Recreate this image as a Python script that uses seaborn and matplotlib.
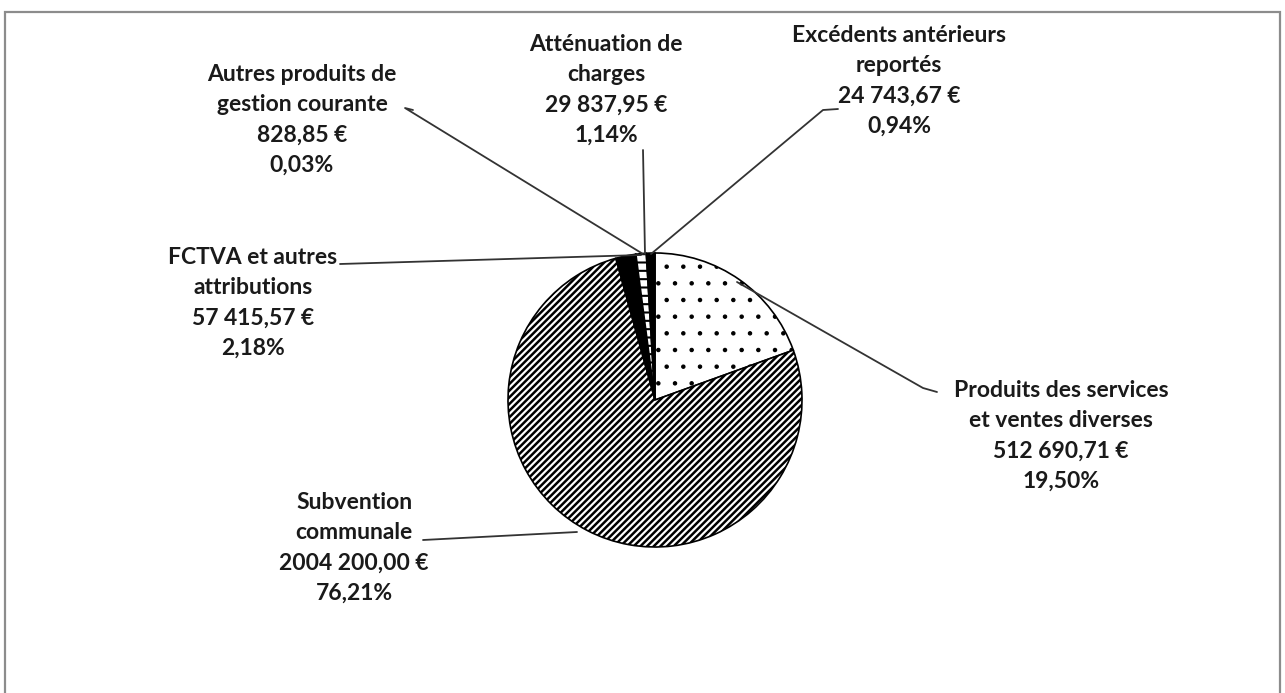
import matplotlib
matplotlib.use("Agg")
import matplotlib.pyplot as plt
import seaborn as sns
from matplotlib.patches import Rectangle

# Data (order as drawn, clockwise from 12 o'clock)
categories = ["Produits des services\net ventes diverses", "Subvention\ncommunale",
              "FCTVA et autres\nattributions", "Autres produits de\ngestion courante",
              "Atténuation de\ncharges", "Excédents antérieurs\nreportés"]
amounts = ["512 690,71 €", "2004 200,00 €", "57 415,57 €", "828,85 €",
           "29 837,95 €", "24 743,67 €"]
values = [512690.71, 2004200.00, 57415.57, 828.85, 29837.95, 24743.67]
percents = ["19,50%", "76,21%", "2,18%", "0,03%", "1,14%", "0,94%"]

sns.set_theme(style="white")
plt.rcParams["font.family"] = ["Lato", "DejaVu Sans"]
plt.rcParams["hatch.linewidth"] = 1.5

W, H = 1285, 693
fig = plt.figure(figsize=(W / 100, H / 100), dpi=100)
ax = fig.add_axes([0, 0, 1, 1])

# frame around the chart area
ax.add_patch(Rectangle((5, -20), 1275, H - 12 + 20, fill=False,
                       edgecolor="#8c8c8c", linewidth=1.6))

cx, cy, r = 655, H - 400, 147
faces = ["white", "white", "black", "black", "white", "black"]
hatches = [".", "/////", None, None, "--", None]
hatch_lw = [0.8, 1.8, 1.5, 1.5, 1.5, 1.5]
wedges, _ = ax.pie(values, startangle=90, counterclock=False,
                   center=(cx, cy), radius=r, frame=True,
                   wedgeprops=dict(edgecolor="black", linewidth=1.2))
for w, fc, h, hl in zip(wedges, faces, hatches, hatch_lw):
    w.set_facecolor(fc)
    if h:
        w.set_hatch(h)
        if hasattr(w, "set_hatch_linewidth"):
            w.set_hatch_linewidth(hl)
ax.set_xlim(0, W)
ax.set_ylim(0, H)
ax.set_aspect("equal")
ax.axis("off")

# label block centres (pixels from top) and leader lines
label_pos = [(1061, 436), (354, 548), (253, 303), (302, 120), (606, 90), (899, 81)]
leaders = [[(937, 392), (923, 388), (737, 282)],
           [(423, 540), (577, 532)],
           [(340, 264), (641, 255)],
           [(413, 110), (405, 108), (643, 254)],
           [(643, 150), (645, 254)],
           [(838, 109), (823, 110), (651, 254)]]

for i in range(len(values)):
    xs = [p[0] for p in leaders[i]]
    ys = [H - p[1] for p in leaders[i]]
    ax.plot(xs, ys, color="#333333", lw=1.3, zorder=1)
    tx, ty = label_pos[i]
    ax.text(tx, H - ty, f"{categories[i]}\n{amounts[i]}\n{percents[i]}",
            ha="center", va="center", fontsize=16.5, fontweight="bold",
            linespacing=1.55, color="#1a1a1a")

fig.savefig("out.png", dpi=100)
